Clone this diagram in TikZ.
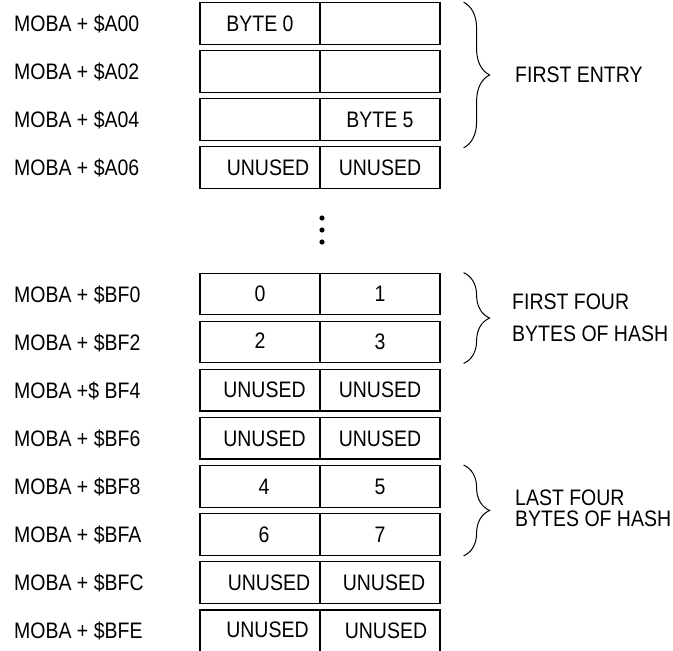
\documentclass[tikz,border=0pt]{standalone}
\usepackage{fontspec}
\setmainfont{Liberation Sans}[FakeStretch=0.87]
\usetikzlibrary{decorations.pathreplacing}
\tikzset{
	bytebox/.style={draw, line width=1.2pt, minimum width=120pt, minimum height=41.5pt, inner sep=0pt},
	addr/.style={anchor=west, inner sep=0pt},
	note/.style={anchor=west, align=left, inner sep=0pt},
	curly/.style={decorate, decoration={brace, amplitude=26pt}, line width=1pt},
}

\begin{document}
\begin{tikzpicture}[x=1pt, y=-1pt, font=\fontsize{22.4}{26}\selectfont]
		%%%%% START %%%%%
		\useasboundingbox (0, 0) rectangle (673, 651);
		
		% first entry
		\node[addr] (la00) at (14, 24) {MOBA + \$A00};
		\node[bytebox] (a00l) at (260, 23.5) {BYTE 0};
		\node[bytebox] (a00r) at (380, 23.5) {};
		
		\node[addr] (la02) at (14, 72) {MOBA + \$A02};
		\node[bytebox] (a02l) at (260, 71.5) {};
		\node[bytebox] (a02r) at (380, 71.5) {};
		
		\node[addr] (la04) at (14, 120) {MOBA + \$A04};
		\node[bytebox] (a04l) at (260, 119.5) {};
		\node[bytebox] (a04r) at (380, 119.5) {\raisebox{-2pt}{BYTE 5}};
		
		\node[addr] (la06) at (14, 168) {MOBA + \$A06};
		\node[bytebox] (a06l) at (260, 167.5) {\raisebox{-4pt}{\hspace{16pt}UNUSED}};
		\node[bytebox] (a06r) at (380, 167.5) {UNUSED};
		
		\draw[curly] ([xshift=23pt]a00r.north east) -- ([xshift=23pt, yshift=-7pt]a04r.south east);
		\node[note] (entry) at (515, 75) {FIRST ENTRY};
		
		% gap
		\fill (322, 218) circle (2.6);
		\fill (322, 230) circle (2.6);
		\fill (322, 242) circle (2.6);
		
		% hash area
		\node[addr] (lbf0) at (14, 294.5) {MOBA + \$BF0};
		\node[bytebox] (bf0l) at (260, 294) {0};
		\node[bytebox] (bf0r) at (380, 294) {\raisebox{-5pt}{1}};
		
		\node[addr] (lbf2) at (14, 342.5) {MOBA + \$BF2};
		\node[bytebox] (bf2l) at (260, 342.1) {\raisebox{2pt}{2}};
		\node[bytebox] (bf2r) at (380, 342.1) {3};
		
		\node[addr] (lbf4) at (14, 390.5) {MOBA +\$ BF4};
		\node[bytebox] (bf4l) at (260, 390.2) {\hspace{9pt}UNUSED};
		\node[bytebox] (bf4r) at (380, 390.2) {UNUSED};
		
		\node[addr] (lbf6) at (14, 438.5) {MOBA + \$BF6};
		\node[bytebox] (bf6l) at (260, 438.3) {\hspace{9pt}UNUSED};
		\node[bytebox] (bf6r) at (380, 438.3) {UNUSED};
		
		\node[addr] (lbf8) at (14, 486.5) {MOBA + \$BF8};
		\node[bytebox] (bf8l) at (260, 486.4) {\hspace{8pt}4};
		\node[bytebox] (bf8r) at (380, 486.4) {5};
		
		\node[addr] (lbfa) at (14, 534.5) {MOBA + \$BFA};
		\node[bytebox] (bfal) at (260, 534.5) {\hspace{8pt}6};
		\node[bytebox] (bfar) at (380, 534.5) {7};
		
		\node[addr] (lbfc) at (14, 582.6) {MOBA + \$BFC};
		\node[bytebox] (bfcl) at (260, 582.6) {\hspace{18pt}UNUSED};
		\node[bytebox] (bfcr) at (380, 582.6) {\hspace{8pt}UNUSED};
		
		\node[addr] (lbfe) at (14, 630.7) {MOBA + \$BFE};
		\node[bytebox] (bfel) at (260, 630.7) {\raisebox{2pt}{\hspace{15pt}UNUSED}};
		\node[bytebox] (bfer) at (380, 630.7) {\raisebox{-2pt}{\hspace{12pt}UNUSED}};
		
		\draw[curly] ([xshift=23pt]bf0r.north east) -- ([xshift=23pt]bf2r.south east);
		\node[note, font=\fontsize{22.4}{32}\selectfont] (hash1) at (512, 317.5) {FIRST FOUR\\BYTES OF HASH};
		
		\draw[curly] ([xshift=23pt]bf8r.north east) -- ([xshift=23pt]bfar.south east);
		\node[note, font=\fontsize{22.4}{21}\selectfont] (hash2) at (515, 508.5) {LAST FOUR\\BYTES OF HASH};
		
		%%%%% END %%%%%
\end{tikzpicture}
\end{document}
